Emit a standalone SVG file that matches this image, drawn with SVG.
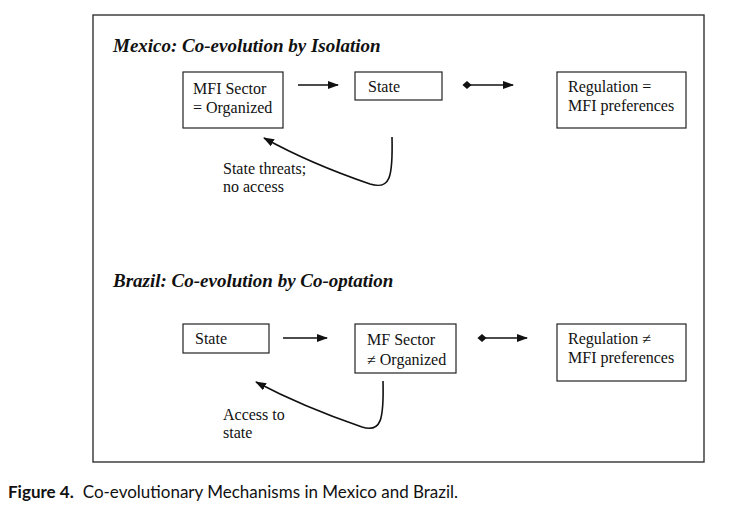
<svg xmlns="http://www.w3.org/2000/svg" width="745" height="529" viewBox="0 0 745 529">
<style>
.box{fill:#fff;stroke:#222;stroke-width:1.2}
.t{font-family:"Liberation Serif","Times New Roman",serif;font-size:16px;fill:#111}
.h{font-family:"Liberation Serif","Times New Roman",serif;font-size:19px;font-weight:bold;font-style:italic;fill:#111}
.c{fill:none;stroke:#111;stroke-width:1.6}
.cap{font-family:Lato,"Open Sans",sans-serif;font-size:17px;fill:#111}
</style>
<defs>
<marker id="ah" markerWidth="12" markerHeight="10" refX="10" refY="4" orient="auto" markerUnits="userSpaceOnUse" viewBox="0 0 12 8">
<path d="M0,0 L11,4 L0,8 Z" fill="#111"/>
</marker>
<marker id="dm" markerWidth="10" markerHeight="8" refX="4" refY="3.5" orient="auto" markerUnits="userSpaceOnUse" viewBox="0 0 8 7">
<path d="M0,3.5 L4,0 L8,3.5 L4,7 Z" fill="#111"/>
</marker>
</defs>
<rect x="0" y="0" width="745" height="529" fill="#fff"/>
<rect x="93" y="15" width="611" height="447" fill="none" stroke="#333" stroke-width="1.4"/>
<text class="h" x="113" y="52">Mexico: Co-evolution by Isolation</text>
<text class="h" x="113" y="287">Brazil: Co-evolution by Co-optation</text>

<g id="mx-mfi"><rect class="box" x="183" y="72" width="100" height="56"/><text class="t" x="193" y="94">MFI Sector</text><text class="t" x="193" y="113">= Organized</text></g>
<g id="mx-state"><rect class="box" x="355" y="72" width="87" height="28"/><text class="t" x="368" y="92">State</text></g>
<g id="mx-reg"><rect class="box" x="557" y="72" width="129" height="56"/><text class="t" x="568" y="92">Regulation =</text><text class="t" x="568" y="111">MFI preferences</text></g>

<g id="br-state"><rect class="box" x="183" y="324" width="86" height="29"/><text class="t" x="195" y="344">State</text></g>
<g id="br-mf"><rect class="box" x="355" y="324" width="101" height="49"/><text class="t" x="367" y="345">MF Sector</text><text class="t" x="367" y="365">≠ Organized</text></g>
<g id="br-reg"><rect class="box" x="557" y="324" width="129" height="57"/><text class="t" x="568" y="344">Regulation ≠</text><text class="t" x="568" y="363">MFI preferences</text></g>

<g id="connectors">
<line class="c" x1="298" y1="85" x2="338" y2="85" marker-end="url(#ah)"/>
<line class="c" x1="467" y1="85" x2="513" y2="85" marker-start="url(#dm)" marker-end="url(#ah)"/>
<path class="c" d="M392,137 C393,178 390,190 370,184 C335,172 300,158 264,138" marker-end="url(#ah)"/>
<line class="c" x1="283" y1="338" x2="327" y2="338" marker-end="url(#ah)"/>
<line class="c" x1="482" y1="338" x2="527" y2="338" marker-start="url(#dm)" marker-end="url(#ah)"/>
<path class="c" d="M383,381 C384,420 381,433 362,427 C327,415 292,401 256,382" marker-end="url(#ah)"/>
</g>
<g id="labels">
<text class="t" x="223" y="174">State threats;</text>
<text class="t" x="223" y="192">no access</text>
<text class="t" x="223" y="420">Access to</text>
<text class="t" x="223" y="438">state</text>
</g>
<text class="cap" x="8" y="498"><tspan font-weight="bold">Figure 4.</tspan><tspan dx="9">Co-evolutionary Mechanisms in Mexico and Brazil.</tspan></text>
</svg>
